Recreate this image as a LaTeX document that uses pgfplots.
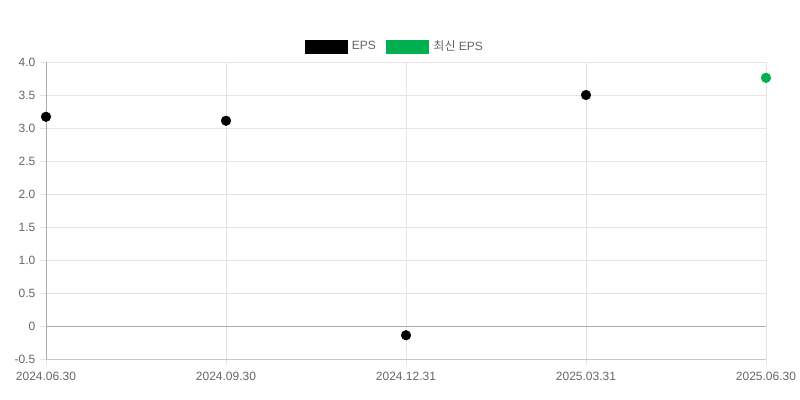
\documentclass[border=0pt]{standalone}
\usepackage{fontspec}
\setmainfont{Liberation Sans}
\newfontfamily\kr{Noto Sans CJK KR}
\usepackage{pgfplots}
\pgfplotsset{compat=1.18}
\definecolor{tickgray}{HTML}{666666}
\definecolor{gridgray}{HTML}{E5E5E5}
\definecolor{axisgray}{HTML}{AAAAAA}
\definecolor{epsgreen}{HTML}{00B050}
\begin{document}
\begin{tikzpicture}
\useasboundingbox (0pt,0pt) rectangle (600pt,300pt);
\begin{axis}[
  at={(34.5pt,30.75pt)}, anchor=south west,
  scale only axis,
  width=540pt, height=222.75pt,
  xmin=0, xmax=4, ymin=-0.5, ymax=4,
  xtick={0,1,2,3,4},
  xticklabels={2024.06.30,2024.09.30,2024.12.31,2025.03.31,2025.06.30},
  ytick={-0.5,0,0.5,1,1.5,2,2.5,3,3.5,4},
  yticklabels={-0.5,0,0.5,1.0,1.5,2.0,2.5,3.0,3.5,4.0},
  axis x line*=bottom, axis y line*=left,
  axis line style={axisgray, line width=0.75pt, -},
  x axis line style={gridgray!50!axisgray},
  grid=major,
  major grid style={gridgray, line width=0.75pt},
  tick style={gridgray, line width=0.75pt},
  tick align=outside, major tick length=4.5pt,
  ticklabel style={font=\fontsize{9}{10}\selectfont, text=tickgray},
  xticklabel style={yshift=-2pt},
  /pgf/number format/assume math mode=true,
  clip=false,
  legend style={at={(0.485,1.052)}, anchor=center, draw=none, fill=none,
    legend columns=-1, font=\fontsize{9}{10}\selectfont, text=tickgray,
    cells={anchor=west},
    /tikz/every odd column/.append style={column sep=1pt},
    /tikz/every even column/.append style={column sep=6pt}},
  legend image code/.code={\path[#1, draw=none] (0pt,-5.25pt) rectangle (32.25pt,5.25pt);},
]
\draw[axisgray, line width=0.75pt] (axis cs:0,0) -- (axis cs:4,0);
\addplot[only marks, mark=*, mark size=3.6pt, black, forget plot]
  coordinates {(0,3.17) (1,3.11) (2,-0.14) (3,3.50)};
\addplot[only marks, mark=*, mark size=3.6pt, epsgreen, forget plot]
  coordinates {(4,3.76)};
\addlegendimage{fill=black}
\addlegendentry{EPS}
\addlegendimage{fill=epsgreen}
\addlegendentry{{\kr 최신} EPS}
\end{axis}
\end{tikzpicture}
\end{document}
